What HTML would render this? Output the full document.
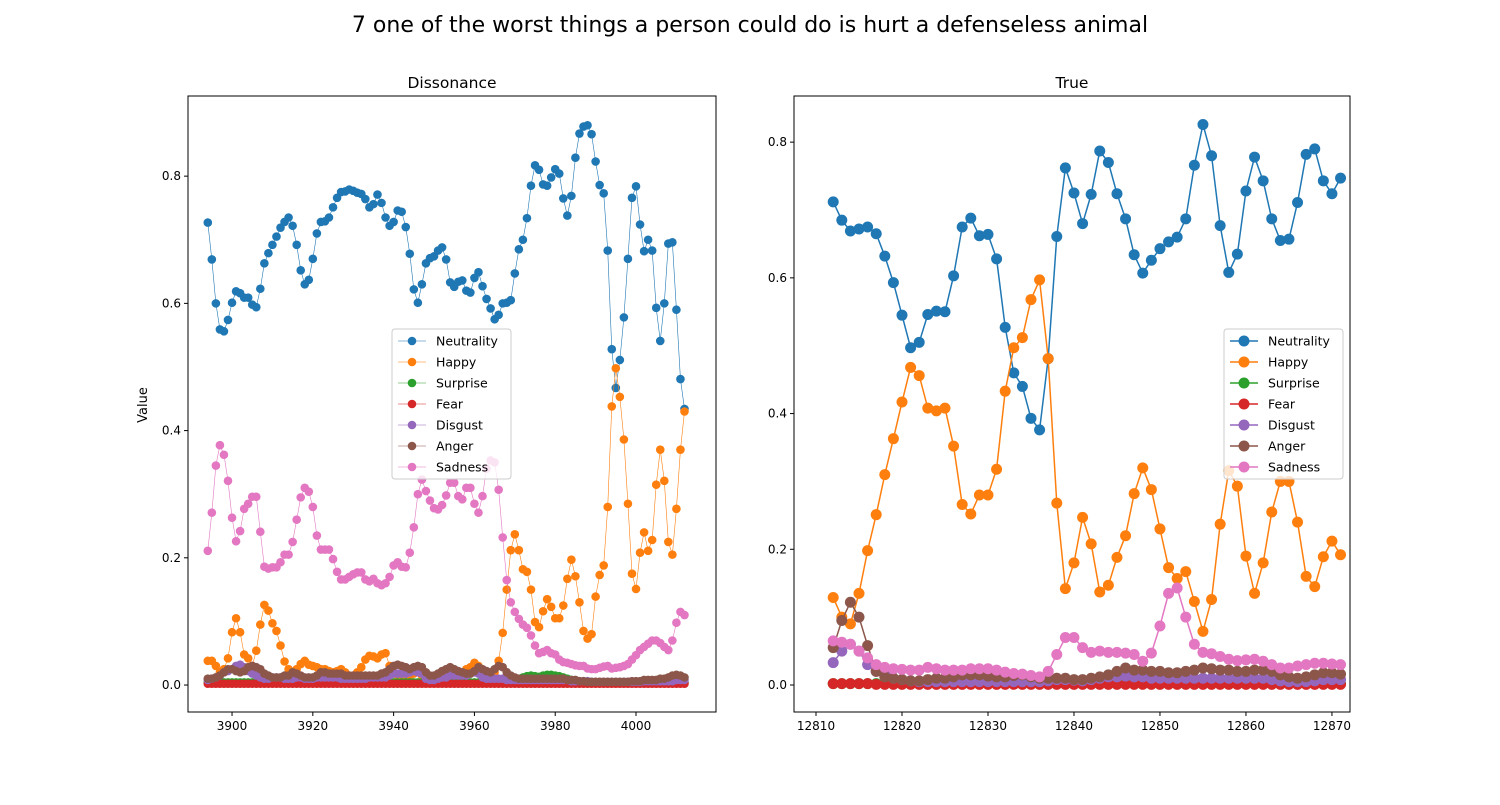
<!DOCTYPE html>
<html><head><meta charset="utf-8"><style>
body{margin:0;background:#fff;}
svg text{font-family:"DejaVu Sans","Liberation Sans",sans-serif;}
</style></head><body>
<svg id="chart" width="1500" height="800" xmlns="http://www.w3.org/2000/svg">
<rect width="1500" height="800" fill="#fff"/>
<text x="750" y="32" font-size="22" text-anchor="middle">7 one of the worst things a person could do is hurt a defenseless animal</text>
<text x="452" y="88" font-size="15.5" text-anchor="middle">Dissonance</text>
<text x="1072" y="88" font-size="15.5" text-anchor="middle">True</text>
<text x="147" y="405" font-size="13" text-anchor="middle" transform="rotate(-90 147 405)">Value</text>
<g id="left"></g><g id="right"></g>
</svg>
<script>
const names=["Neutrality","Happy","Surprise","Fear","Disgust","Anger","Sadness"];
const colors=["#1f77b4","#ff7f0e","#2ca02c","#d62728","#9467bd","#8c564b","#e377c2"];
const leftStart=3894;
const leftNeutrality=[.727,.669,.60,.559,.556,.574,.601,.619,.616,.609,.609,.598,.594,.623,.663,.679,.692,.705,.719,.728,.735,.722,.692,.652,.630,.637,.670,.710,.728,.729,.735,.751,.766,.775,.776,.779,.777,.774,.772,.764,.751,.756,.771,.758,.735,.722,.728,.746,.744,.720,.678,.622,.601,.630,.663,.671,.674,.683,.688,.669,.633,.626,.634,.636,.620,.617,.640,.649,.627,.607,.592,.575,.582,.600,.601,.605,.647,.685,.700,.734,.785,.817,.810,.787,.785,.798,.811,.804,.765,.738,.769,.829,.867,.878,.880,.866,.823,.786,.773,.683,.528,.467,.511,.578,.670,.766,.784,.724,.682,.700,.683,.593,.541,.600,.694,.696,.590,.481,.434];
const leftHappy=[.038,.038,.030,.020,.025,.042,.083,.105,.083,.048,.042,.030,.054,.095,.126,.117,.097,.085,.062,.037,.025,.020,.025,.033,.038,.032,.030,.028,.025,.025,.022,.020,.022,.025,.020,.015,.015,.020,.028,.040,.046,.045,.042,.048,.050,.030,.020,.015,.012,.012,.015,.018,.020,.015,.012,.010,.012,.015,.020,.022,.018,.015,.015,.020,.025,.028,.035,.030,.022,.018,.015,.020,.038,.082,.150,.212,.237,.212,.182,.178,.150,.099,.091,.116,.135,.123,.105,.105,.125,.167,.197,.171,.130,.085,.073,.080,.139,.173,.188,.280,.438,.498,.453,.386,.285,.175,.151,.208,.240,.211,.228,.315,.370,.321,.225,.205,.277,.370,.430];
const leftSurprise=[.004,.004,.004,.004,.004,.004,.004,.004,.004,.004,.004,.004,.004,.004,.004,.004,.004,.004,.004,.004,.004,.004,.004,.004,.004,.004,.004,.004,.004,.004,.004,.004,.004,.004,.004,.004,.004,.004,.004,.004,.004,.004,.004,.004,.004,.004,.004,.004,.004,.004,.004,.004,.004,.004,.004,.004,.004,.004,.004,.004,.004,.004,.004,.004,.004,.004,.004,.004,.004,.004,.004,.004,.004,.005,.006,.007,.008,.010,.012,.014,.015,.014,.013,.015,.016,.016,.015,.014,.012,.010,.008,.006,.005,.004,.004,.004,.004,.004,.004,.004,.004,.004,.004,.004,.004,.004,.004,.004,.004,.004,.004,.004,.004,.004,.004,.004,.004,.004,.004];
const leftFear=[.002,.002,.002,.002,.002,.002,.002,.002,.002,.002,.002,.002,.002,.002,.002,.002,.002,.002,.002,.002,.002,.002,.002,.002,.002,.002,.002,.002,.002,.002,.002,.002,.002,.002,.002,.002,.002,.002,.002,.002,.002,.002,.002,.002,.002,.002,.002,.002,.002,.002,.002,.002,.002,.002,.002,.002,.002,.002,.002,.002,.002,.002,.002,.002,.002,.002,.002,.002,.002,.002,.002,.002,.002,.002,.002,.002,.002,.002,.002,.002,.002,.002,.002,.002,.002,.002,.002,.002,.002,.002,.002,.002,.002,.002,.002,.002,.002,.002,.002,.002,.002,.002,.002,.002,.002,.002,.002,.002,.002,.002,.002,.002,.002,.002,.002,.002,.002,.002,.002];
const leftDisgust=[.008,.010,.012,.015,.020,.022,.025,.030,.032,.028,.022,.018,.015,.012,.010,.010,.012,.012,.012,.010,.010,.010,.012,.012,.010,.010,.010,.012,.012,.012,.012,.012,.012,.010,.010,.010,.010,.010,.010,.010,.012,.012,.012,.012,.012,.015,.018,.018,.018,.018,.020,.022,.020,.018,.010,.008,.008,.010,.012,.012,.015,.015,.015,.015,.015,.018,.020,.018,.012,.010,.010,.010,.010,.010,.008,.008,.008,.008,.008,.008,.008,.008,.008,.008,.008,.008,.008,.008,.008,.008,.006,.006,.006,.006,.006,.005,.005,.005,.005,.005,.005,.005,.005,.005,.005,.005,.005,.005,.006,.006,.006,.006,.006,.006,.006,.006,.008,.008,.008];
const leftAnger=[.010,.010,.012,.015,.020,.025,.025,.022,.020,.022,.028,.030,.028,.025,.018,.015,.012,.012,.012,.015,.015,.020,.018,.015,.012,.012,.012,.015,.020,.020,.018,.018,.018,.018,.015,.015,.015,.015,.015,.015,.015,.015,.015,.018,.020,.025,.030,.032,.030,.028,.025,.028,.030,.028,.020,.015,.015,.018,.022,.025,.028,.025,.022,.020,.018,.018,.022,.028,.025,.022,.020,.025,.030,.028,.020,.015,.012,.010,.010,.010,.010,.010,.010,.010,.010,.010,.010,.010,.010,.008,.008,.008,.006,.006,.005,.005,.005,.005,.005,.005,.005,.005,.005,.005,.005,.006,.006,.006,.008,.008,.008,.008,.010,.010,.012,.015,.016,.015,.012];
const leftSadness=[.211,.271,.345,.377,.362,.321,.263,.226,.242,.277,.285,.296,.296,.241,.186,.183,.185,.185,.193,.205,.205,.225,.260,.295,.310,.304,.280,.235,.213,.213,.213,.198,.178,.166,.166,.170,.174,.177,.177,.166,.163,.167,.160,.157,.160,.170,.188,.193,.186,.185,.208,.248,.300,.323,.305,.290,.278,.276,.283,.298,.318,.318,.297,.292,.310,.310,.285,.271,.297,.340,.353,.350,.307,.232,.165,.130,.115,.104,.095,.090,.078,.062,.050,.052,.055,.050,.048,.040,.036,.035,.033,.031,.030,.030,.026,.025,.025,.027,.029,.030,.026,.027,.028,.030,.033,.040,.047,.055,.060,.065,.070,.070,.066,.060,.055,.070,.098,.115,.110];

const rightStart=12812;
const rightNeutrality=[.712,.685,.669,.672,.675,.665,.632,.593,.545,.497,.505,.546,.551,.550,.603,.675,.688,.662,.664,.628,.527,.460,.440,.393,.376,.481,.661,.762,.725,.680,.723,.787,.770,.724,.687,.634,.607,.626,.643,.653,.660,.687,.766,.826,.780,.677,.608,.635,.728,.778,.743,.687,.655,.657,.711,.782,.790,.743,.724,.747];
const rightHappy=[.129,.100,.090,.135,.198,.251,.310,.363,.417,.468,.456,.408,.404,.408,.352,.266,.252,.280,.280,.318,.433,.497,.512,.568,.597,.481,.268,.142,.180,.247,.208,.137,.147,.188,.220,.282,.320,.288,.230,.173,.157,.167,.123,.079,.126,.237,.316,.293,.190,.135,.180,.255,.300,.300,.240,.160,.145,.189,.212,.192];
const rightSurprise=[.002,.002,.002,.002,.002,.002,.002,.002,.002,.002,.002,.002,.002,.002,.002,.002,.002,.002,.002,.002,.002,.002,.002,.002,.002,.002,.002,.002,.002,.002,.002,.002,.002,.002,.002,.002,.002,.002,.002,.002,.002,.002,.002,.002,.002,.002,.002,.002,.002,.002,.002,.002,.002,.002,.002,.002,.002,.002,.002,.002];
const rightFear=[.002,.002,.002,.002,.002,.001,.001,.001,.001,.001,.001,.001,.001,.001,.001,.001,.001,.001,.001,.001,.001,.001,.001,.001,.001,.001,.001,.001,.001,.001,.001,.001,.001,.001,.001,.001,.001,.001,.001,.001,.001,.001,.001,.001,.001,.001,.001,.001,.001,.001,.001,.001,.001,.001,.001,.001,.001,.001,.001,.001];
const rightDisgust=[.033,.050,.060,.050,.030,.020,.015,.010,.008,.006,.005,.005,.005,.005,.005,.005,.005,.005,.005,.005,.005,.005,.005,.005,.005,.006,.008,.008,.007,.006,.008,.010,.012,.012,.013,.012,.012,.010,.010,.010,.010,.010,.010,.010,.010,.010,.010,.010,.010,.010,.010,.008,.006,.005,.005,.005,.006,.008,.008,.008];
const rightAnger=[.055,.095,.122,.100,.058,.020,.012,.010,.008,.006,.006,.008,.010,.010,.012,.015,.015,.015,.013,.012,.012,.014,.015,.012,.010,.010,.010,.010,.008,.008,.010,.012,.015,.020,.025,.022,.022,.020,.020,.018,.018,.020,.022,.025,.024,.022,.022,.020,.020,.022,.022,.020,.015,.012,.010,.012,.015,.018,.018,.016];
const rightSadness=[.065,.063,.060,.050,.040,.030,.026,.024,.023,.022,.022,.026,.024,.022,.022,.022,.024,.024,.024,.022,.019,.017,.016,.014,.012,.020,.045,.070,.070,.055,.048,.050,.048,.048,.047,.045,.035,.047,.087,.135,.143,.100,.060,.048,.046,.042,.038,.036,.037,.038,.035,.030,.025,.025,.028,.030,.032,.032,.031,.030];

const leftX=[3900,3920,3940,3960,3980,4000];
const rightX=[12810,12820,12830,12840,12850,12860,12870];
const yTicks=[0,0.2,0.4,0.6,0.8];
const NS="http://www.w3.org/2000/svg";
function mk(tag,attrs,parent){const e=document.createElementNS(NS,tag);for(const k in attrs)e.setAttribute(k,attrs[k]);parent.appendChild(e);return e;}

function panel(g,cfg){
  const {x0,x1,y0,y1,xmin,xmax,ymin,ymax,start,series,xticks,r,lw,leg}=cfg;
  const sx=v=>x0+(v-xmin)/(xmax-xmin)*(x1-x0);
  const sy=v=>y1-(v-ymin)/(ymax-ymin)*(y1-y0);
  series.forEach((s,i)=>{
    const sg=mk('g',{},g);
    
    
    const pts=s.map((v,j)=>sx(start+j).toFixed(2)+','+sy(v).toFixed(2)).join(' ');
    mk('polyline',{points:pts,fill:'none',stroke:colors[i],'stroke-width':lw},sg);
    s.forEach((v,j)=>{
      const c=mk('circle',{cx:sx(start+j),cy:sy(v),r:r,fill:colors[i]},sg);
      
      
    });
  });
  const frame=mk('rect',{x:x0,y:y0,width:x1-x0,height:y1-y0,fill:'none',stroke:'#000','stroke-width':1},g);
  
  
  xticks.forEach(t=>{const x=sx(t);mk('line',{x1:x,x2:x,y1:y1,y2:y1+4,stroke:'#000'},g);
    const tx=mk('text',{x:x,y:y1+18,'font-size':12,'text-anchor':'middle'},g);tx.textContent=t;
    
    });
  yTicks.forEach(t=>{const y=sy(t);mk('line',{x1:x0-4,x2:x0,y1:y,y2:y,stroke:'#000'},g);
    const tx=mk('text',{x:x0-7,y:y+4,'font-size':12,'text-anchor':'end'},g);tx.textContent=t.toFixed(1);
    
    });
  const lg=mk('g',{},g);
  
  
  mk('rect',{x:leg[0],y:leg[1],width:119,height:150,rx:3,fill:'#fff','fill-opacity':0.8,stroke:'#ccc'},lg);
  names.forEach((n,i)=>{const yy=leg[1]+12+i*21;
    mk('line',{x1:leg[0]+6,x2:leg[0]+34,y1:yy,y2:yy,stroke:colors[i],'stroke-width':lw},lg);
    mk('circle',{cx:leg[0]+20,cy:yy,r:r,fill:colors[i]},lg);
    const tx=mk('text',{x:leg[0]+44,y:yy+4.5,'font-size':12.5},lg);tx.textContent=n;
    
    });
}
panel(document.getElementById('left'),{x0:188,x1:716,y0:96,y1:712,xmin:3889.1,xmax:4019.8,ymin:-0.0424,ymax:0.926,start:leftStart,
  series:[leftNeutrality,leftHappy,leftSurprise,leftFear,leftDisgust,leftAnger,leftSadness],xticks:leftX,r:4.3,lw:0.6,leg:[392,329]});
panel(document.getElementById('right'),{x0:794,x1:1350,y0:96,y1:712,xmin:12807.44,xmax:12872.1,ymin:-0.0398,ymax:0.868,start:rightStart,
  series:[rightNeutrality,rightHappy,rightSurprise,rightFear,rightDisgust,rightAnger,rightSadness],xticks:rightX,r:5.5,lw:1.5,leg:[1224,329]});
</script>
</body></html>
